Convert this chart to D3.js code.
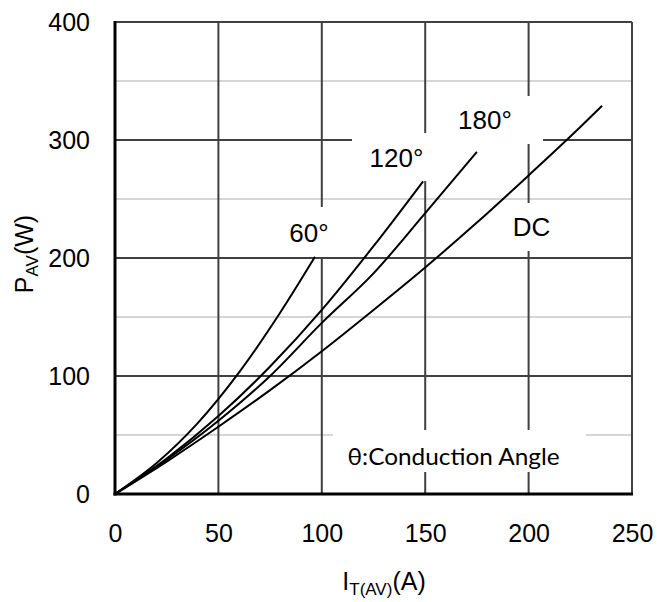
<!DOCTYPE html>
<html>
<head>
<meta charset="utf-8">
<script src="https://cdn.jsdelivr.net/npm/d3@7/dist/d3.min.js"></script>
<style>
  body { margin: 0; background: #fff; }
  .chart { width: 657px; height: 602px; }
  .tick text { font-family: "Liberation Sans", Arial, sans-serif; font-size: 25px; fill: #000; }
  .lbl { font-family: "Liberation Sans", Arial, sans-serif; font-size: 26px; fill: #000; }
  .ttl { font-family: "Liberation Sans", Arial, sans-serif; font-size: 25px; fill: #000; }
  .curve { fill: none; stroke: #000; stroke-width: 2px; }
</style>
</head>
<body>
<div class="chart"></div>
<script>
  // current I_T(AV) in A, average power P_AV in W
  var dcI   = [0, 25, 50, 75, 100, 125, 150, 175, 200, 225, 235.5];
  var dcP   = [0, 27.5, 57, 88, 121, 156, 192, 230, 270, 311, 329];
  var a180I = [0, 25, 50, 75, 100, 125, 150, 175];
  var a180P = [0, 29, 62, 100, 145, 187, 238, 290];
  var a120I = [0, 25, 50, 75, 100, 125, 149];
  var a120P = [0, 30, 66, 108, 156, 210, 265];
  var a60I  = [0, 20, 40, 60, 80, 96.7];
  var a60P  = [0, 26, 60, 103, 154, 201];

  var xTicks = [0, 50, 100, 150, 200, 250];
  var yTicks = [0, 100, 200, 300, 400];
  var yMinor = [50, 150, 250, 350];

  var series = [
    { name: "DC",   I: dcI,   P: dcP },
    { name: "180°", I: a180I, P: a180P },
    { name: "120°", I: a120I, P: a120P },
    { name: "60°",  I: a60I,  P: a60P }
  ];

  var margin = { top: 22, right: 25, bottom: 108, left: 115 },
      width = 657 - margin.left - margin.right,
      height = 602 - margin.top - margin.bottom;

  var x = d3.scaleLinear().domain([0, 250]).range([0, width]);
  var y = d3.scaleLinear().domain([0, 400]).range([height, 0]);

  var svg = d3.select(".chart").append("svg")
              .attr("width", 657)
              .attr("height", 602)
              .append("g")
              .attr("transform", "translate(" + margin.left + "," + margin.top + ")");

  // light minor grid
  svg.selectAll(".minor")
     .data(yMinor)
     .enter().append("line")
     .attr("x1", 0).attr("x2", width)
     .attr("y1", function(d) { return y(d); })
     .attr("y2", function(d) { return y(d); })
     .style("stroke", "#c8c8c8").style("stroke-width", 1.5);

  // major grid
  svg.selectAll(".hgrid")
     .data(yTicks)
     .enter().append("line")
     .attr("x1", 0).attr("x2", width)
     .attr("y1", function(d) { return y(d); })
     .attr("y2", function(d) { return y(d); })
     .style("stroke", "#404040").style("stroke-width", 2);

  svg.selectAll(".vgrid")
     .data(xTicks)
     .enter().append("line")
     .attr("y1", 0).attr("y2", height)
     .attr("x1", function(d) { return x(d); })
     .attr("x2", function(d) { return x(d); })
     .style("stroke", "#404040").style("stroke-width", 2);

  // white boxes behind the labels cut the grid
  var boxes = [
    { t: "60°",  x0: 155, y0: 185, w: 70,  h: 50, tx: 194,   ty: 220 },
    { t: "120°", x0: 237, y0: 111, w: 84,  h: 48, tx: 281.5, ty: 145 },
    { t: "180°", x0: 317, y0: 74,  w: 111, h: 48, tx: 370,   ty: 107 },
    { t: "DC",   x0: 380, y0: 181, w: 75,  h: 48, tx: 416.5, ty: 214 }
  ];

  svg.selectAll(".box")
     .data(boxes)
     .enter().append("rect")
     .attr("x", function(d) { return d.x0; })
     .attr("y", function(d) { return d.y0; })
     .attr("width", function(d) { return d.w; })
     .attr("height", function(d) { return d.h; })
     .style("fill", "#fff");

  svg.append("rect")
     .attr("x", 218).attr("y", 408).attr("width", 253).attr("height", 42)
     .style("fill", "#fff");

  // axes frame
  svg.append("line").attr("x1", 0).attr("x2", width).attr("y1", 0).attr("y2", 0)
     .style("stroke", "#404040").style("stroke-width", 2);
  svg.append("line").attr("x1", width).attr("x2", width).attr("y1", 0).attr("y2", height)
     .style("stroke", "#404040").style("stroke-width", 2);
  svg.append("line").attr("x1", 0).attr("x2", 0).attr("y1", -1).attr("y2", height + 1.5)
     .style("stroke", "#000").style("stroke-width", 3);
  svg.append("line").attr("x1", -1.5).attr("x2", width + 1).attr("y1", height).attr("y2", height)
     .style("stroke", "#000").style("stroke-width", 3);

  var line = d3.line()
               .curve(d3.curveMonotoneX)
               .x(function(d) { return x(d[0]); })
               .y(function(d) { return y(d[1]); });

  svg.selectAll(".curve")
     .data(series)
     .enter().append("path")
     .attr("class", "curve")
     .attr("d", function(d) {
        return line(d.I.map(function(v, i) { return [v, d.P[i]]; }));
     });

  svg.selectAll(".ann")
     .data(boxes)
     .enter().append("text")
     .attr("class", "lbl")
     .attr("x", function(d) { return d.tx; })
     .attr("y", function(d) { return d.ty; })
     .style("text-anchor", "middle")
     .text(function(d) { return d.t; });

  svg.append("text")
     .attr("x", 338.5).attr("y", 443)
     .style("text-anchor", "middle")
     .style("font-family", "Lato, 'Open Sans', sans-serif")
     .style("font-size", "24px")
     .attr("textLength", 212)
     .attr("lengthAdjust", "spacingAndGlyphs")
     .text("θ:Conduction Angle");

  var xAxis = d3.axisBottom(x).tickValues(xTicks).tickSize(0).tickPadding(30);
  var yAxis = d3.axisLeft(y).tickValues(yTicks).tickSize(0).tickPadding(25);

  svg.append("g")
     .attr("class", "x axis")
     .attr("transform", "translate(0," + height + ")")
     .call(xAxis)
     .select(".domain").remove();

  svg.append("g")
     .attr("class", "y axis")
     .call(yAxis)
     .select(".domain").remove();

  // axis titles with subscripts
  var yt = svg.append("text")
     .attr("class", "ttl")
     .attr("transform", "translate(" + (33 - margin.left) + "," + (254 - margin.top) + ") rotate(-90)")
     .style("text-anchor", "middle");
  yt.append("tspan").text("P");
  yt.append("tspan").attr("dy", 5).style("font-size", "17px").text("AV");
  yt.append("tspan").attr("dy", -5).text("(W)");

  var xt = svg.append("text")
     .attr("class", "ttl")
     .attr("x", 384 - margin.left)
     .attr("y", 590 - margin.top)
     .style("text-anchor", "middle");
  xt.append("tspan").text("I");
  xt.append("tspan").attr("dy", 5).style("font-size", "17px").text("T(AV)");
  xt.append("tspan").attr("dy", -5).text("(A)");
</script>
</body>
</html>
